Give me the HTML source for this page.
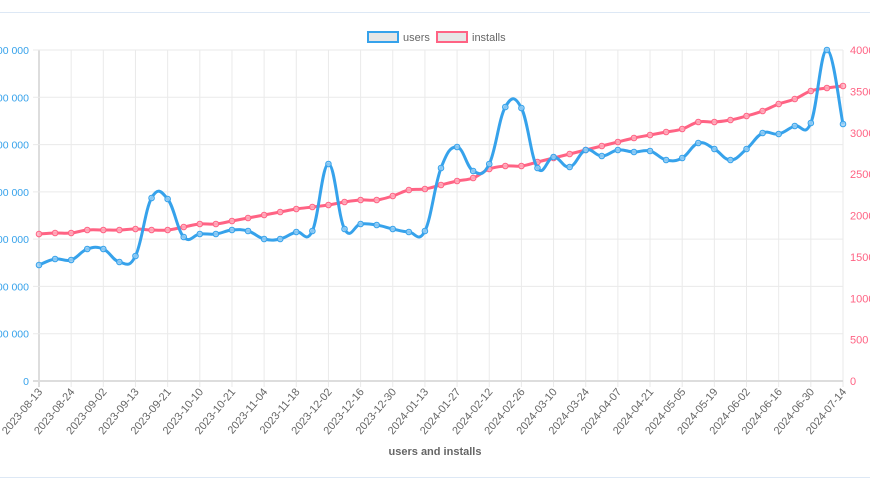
<!DOCTYPE html>
<html><head><meta charset="utf-8"><style>
body{margin:0;background:#fff;width:870px;height:494px;overflow:hidden;font-family:"Liberation Sans",sans-serif}
</style></head><body>
<svg id="s" width="870" height="494" xmlns="http://www.w3.org/2000/svg" font-family="Liberation Sans, sans-serif">
<line x1="0" y1="12.5" x2="870" y2="12.5" stroke="#dde8f5"/>
<line x1="0" y1="477.5" x2="870" y2="477.5" stroke="#dde8f5"/>
<g id="grid"></g>
<rect x="368" y="32" width="30" height="10" fill="#e6e6e6" stroke="#36a2eb" stroke-width="2"/>
<text x="403" y="41" font-size="11" fill="#666">users</text>
<rect x="437" y="32" width="30" height="10" fill="#e6e6e6" stroke="#ff6384" stroke-width="2"/>
<text x="472" y="41" font-size="11" fill="#666">installs</text>
<text x="435" y="455" font-size="11" font-weight="bold" fill="#666" text-anchor="middle">users and installs</text>
<g id="series"></g>
</svg>
<script>
const ns="http://www.w3.org/2000/svg",g=document.getElementById('grid'),se=document.getElementById('series');
function el(p,t,a,txt){const e=document.createElementNS(ns,t);for(const k in a)e.setAttribute(k,a[k]);if(txt!=null)e.textContent=txt;p.appendChild(e);return e}
const L=39,R=843,T=50,B=381;
const labels="2023-08-13,2023-08-24,2023-09-02,2023-09-13,2023-09-21,2023-10-10,2023-10-21,2023-11-04,2023-11-18,2023-12-02,2023-12-16,2023-12-30,2024-01-13,2024-01-27,2024-02-12,2024-02-26,2024-03-10,2024-03-24,2024-04-07,2024-04-21,2024-05-05,2024-05-19,2024-06-02,2024-06-16,2024-06-30,2024-07-14".split(',');
for(let i=0;i<26;i++){const x=L+(R-L)*i/25;
el(g,'line',{x1:x,y1:T,x2:x,y2:B+6,stroke:i==0?'#ddd':'#eaeaea','stroke-width':i==0?2:1});
el(g,'text',{transform:`translate(${x+4},${B+11}) rotate(-50)`,'font-size':11,fill:'#666','text-anchor':'end'},labels[i]);}
const lv=['0','100 000','200 000','300 000','400 000','500 000','600 000','700 000'];
for(let i=0;i<8;i++){const y=B-(B-T)*i/7;
el(g,'line',{x1:L-6,y1:y,x2:R,y2:y,stroke:i==0?'#ddd':'#eaeaea','stroke-width':i==0?2:1});
el(g,'text',{x:L-10,y:y+4,'font-size':10.5,fill:'#36a2eb','text-anchor':'end'},lv[i]);}
for(let i=0;i<9;i++){const y=B-(B-T)*i/8;
el(g,'text',{x:850,y:y+4,'font-size':11,fill:'#ff6384'},String(i*500));}
const u=[265,259,260,249,249,262,256,198,199,237,234,234,230,231,239,239,232,231,164,229,224,225,229,232,231,168,147,171,164,107,108,168,157,167,150,156,150,152,151,160,158,143,149,160,149,133,134,126,123,50,124];
const ins=[234,233,233,230,230,230,229,230,230,227,224,224,221,218,215,212,209,207,205,202,200,200,196,190,189,185,181,178,169,166,166,162,158,154,150,146,142,138,135,132,129,122,122,120,116,111,104,99,91,88,86];
function draw(ys,c,fill){const n=ys.length,p=ys.map((y,i)=>[L+(R-L)*i/(n-1),y]);
let d=`M${p[0][0]},${p[0][1]}`;const t=0.4;
for(let i=0;i<n-1;i++){const p0=p[Math.max(0,i-1)],p1=p[i],p2=p[i+1],p3=p[Math.min(n-1,i+2)];
const c1=[p1[0]+(p2[0]-p0[0])*t/2,p1[1]+(p2[1]-p0[1])*t/2],c2=[p2[0]-(p3[0]-p1[0])*t/2,p2[1]-(p3[1]-p1[1])*t/2];
d+=` C${c1[0]},${c1[1]} ${c2[0]},${c2[1]} ${p2[0]},${p2[1]}`;}
el(se,'path',{d,fill:'none',stroke:c,'stroke-width':3});
p.forEach(q=>el(se,'circle',{cx:q[0],cy:q[1],r:2.8,fill:fill,'fill-opacity':0.8,stroke:c,'stroke-width':1}));}
draw(ins,'#ff6384','#ffb1c1');
draw(u,'#36a2eb','#9ad0f5');
</script>
</body></html>
